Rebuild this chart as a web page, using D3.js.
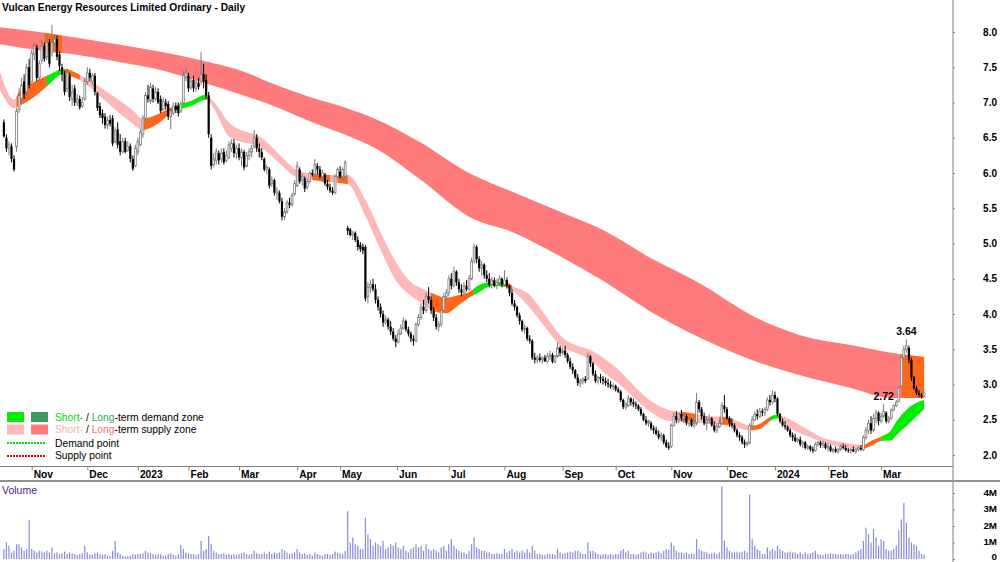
<!DOCTYPE html>
<html><head><meta charset="utf-8">
<script src="https://cdn.jsdelivr.net/npm/d3@7"></script>
<style>
html,body{margin:0;padding:0;background:#fff;}
svg{display:block;font-family:"Liberation Sans",Arial,sans-serif;}
</style></head><body>
<svg id="chart" width="1000" height="562"></svg>
<script>
// ---- Daily candles per month: [open, high, low, close, volume (millions)] ----
const oct22 = [[6.72,6.76,6.50,6.52,0.6],[6.50,6.55,6.30,6.35,1.0],[6.35,6.45,6.25,6.40,0.8],[6.38,6.42,6.15,6.20,0.4],[6.20,6.25,6.02,6.05,0.5],[6.37,6.92,6.30,6.88,0.9],[6.90,7.20,6.85,7.10,0.9],[7.05,7.35,7.00,7.25,0.7],[7.30,7.40,7.05,7.12,0.5],[7.15,7.55,7.10,7.50,0.6],[7.50,7.62,7.20,7.25,2.35]];
const nov22 = [[7.30,7.75,7.28,7.70,0.6],[7.68,7.85,7.60,7.80,0.5],[7.78,7.82,7.30,7.35,0.4],[7.35,7.60,7.30,7.55,0.5],[7.60,7.90,7.55,7.80,0.45],[7.80,7.85,7.58,7.62,0.4],[7.65,7.96,7.60,7.85,0.5],[7.85,7.90,7.50,7.55,0.4],[7.70,8.10,7.65,7.85,0.7],[7.85,7.95,7.80,7.90,0.35],[7.90,7.95,7.60,7.65,0.4],[7.68,7.72,7.45,7.52,0.3],[7.50,7.55,7.30,7.40,0.35],[7.40,7.45,7.10,7.15,0.45],[7.20,7.48,7.15,7.42,0.3],[7.38,7.42,7.02,7.08,0.4],[7.05,7.25,6.95,7.15,0.35],[7.20,7.25,6.95,7.00,0.3],[7.00,7.12,6.95,7.05,0.25],[7.05,7.10,6.90,6.93,0.3],[6.95,7.08,6.92,7.00,0.35],[7.05,7.35,7.02,7.30,0.8]];
const dec22 = [[7.30,7.50,7.25,7.42,0.4],[7.42,7.48,7.30,7.35,0.3],[7.30,7.42,7.25,7.38,0.25],[7.38,7.42,7.10,7.15,0.35],[7.13,7.15,6.88,6.92,0.4],[6.95,7.00,6.78,6.82,0.3],[6.85,6.90,6.70,6.78,0.25],[6.80,6.85,6.63,6.68,0.3],[6.68,6.80,6.62,6.75,0.2],[6.75,6.82,6.66,6.70,0.2],[6.78,6.82,6.38,6.42,0.5],[6.45,6.65,6.42,6.60,1.1],[6.62,6.72,6.35,6.40,0.4],[6.45,6.55,6.25,6.30,0.3],[6.30,6.50,6.28,6.45,0.2],[6.45,6.50,6.28,6.30,0.15],[6.32,6.45,6.30,6.38,0.15],[6.38,6.42,6.15,6.20,0.2],[6.20,6.25,6.03,6.06,0.3],[6.10,6.40,6.08,6.35,0.25]];
const jan23 = [[6.30,6.50,6.25,6.45,0.3],[6.40,6.62,6.38,6.58,0.3],[6.55,6.82,6.50,6.78,0.35],[6.78,7.15,6.75,7.10,0.5],[7.10,7.25,7.00,7.05,0.4],[7.02,7.28,6.98,7.22,0.35],[7.20,7.25,7.00,7.05,0.3],[7.05,7.22,7.02,7.15,0.25],[7.15,7.20,6.98,7.00,0.3],[7.05,7.10,6.85,6.88,0.3],[6.90,7.08,6.88,7.02,0.2],[7.00,7.05,6.90,6.95,0.2],[6.98,7.02,6.75,6.80,0.3],[6.80,6.92,6.62,6.88,0.35],[6.85,7.00,6.82,6.95,0.25],[6.95,7.00,6.85,6.90,0.2],[6.95,7.00,6.80,6.85,0.3],[6.88,7.02,6.85,6.98,0.85],[7.00,7.45,6.98,7.38,0.6],[7.35,7.50,7.30,7.42,0.4]];
const feb23 = [[7.38,7.42,7.15,7.20,0.35],[7.22,7.35,7.18,7.30,0.3],[7.32,7.38,7.15,7.20,0.3],[7.20,7.32,7.15,7.28,0.25],[7.28,7.35,7.18,7.22,0.3],[7.30,7.72,7.25,7.40,1.1],[7.40,7.55,7.20,7.30,0.5],[7.32,7.40,7.05,7.10,0.6],[7.10,7.15,6.50,6.55,1.4],[6.50,6.55,6.05,6.10,0.9],[6.12,6.28,6.08,6.20,0.5],[6.18,6.35,6.12,6.30,0.4],[6.28,6.32,6.12,6.18,0.3],[6.20,6.35,6.15,6.28,0.3],[6.30,6.35,6.12,6.15,0.35],[6.18,6.32,6.15,6.25,0.25],[6.22,6.45,6.20,6.40,0.3],[6.35,6.48,6.30,6.42,0.25],[6.42,6.48,6.22,6.28,0.3],[6.28,6.40,6.20,6.35,0.25]];
const mar23 = [[6.35,6.42,6.18,6.22,0.3],[6.22,6.35,6.10,6.30,0.35],[6.30,6.33,6.04,6.08,0.4],[6.10,6.30,6.08,6.25,0.3],[6.25,6.35,6.18,6.30,0.25],[6.30,6.40,6.22,6.35,0.3],[6.38,6.61,6.35,6.50,0.5],[6.50,6.55,6.30,6.35,0.35],[6.35,6.42,6.22,6.30,0.3],[6.30,6.35,6.18,6.22,0.3],[6.20,6.22,6.02,6.05,0.4],[6.05,6.12,5.98,6.08,0.3],[6.05,6.08,5.78,5.82,0.45],[5.85,5.95,5.80,5.90,0.3],[5.90,5.92,5.68,5.72,0.4],[5.72,5.80,5.62,5.75,0.35],[5.72,5.75,5.57,5.60,0.4],[5.60,5.65,5.33,5.38,0.6],[5.38,5.50,5.33,5.45,0.5],[5.45,5.62,5.42,5.58,0.4],[5.58,5.65,5.50,5.55,0.3],[5.55,5.72,5.52,5.68,0.35],[5.70,5.90,5.68,5.85,0.4]];
const apr23 = [[5.82,6.16,5.80,6.10,0.6],[6.05,6.08,5.85,5.88,0.4],[5.90,6.00,5.82,5.95,0.3],[5.92,5.95,5.73,5.78,0.35],[5.80,5.92,5.76,5.88,0.25],[5.88,6.02,5.85,6.00,0.3],[6.00,6.05,5.95,5.98,0.2],[5.98,6.20,5.94,6.12,0.4],[6.10,6.14,5.98,6.05,0.3],[6.05,6.10,5.92,5.95,0.25],[5.95,6.05,5.88,6.00,0.2],[5.98,6.00,5.82,5.85,0.3],[5.85,5.90,5.76,5.80,0.3],[5.80,5.85,5.72,5.75,0.25],[5.75,5.80,5.69,5.72,0.3],[5.72,5.98,5.70,5.95,0.45],[5.95,6.08,5.92,6.05,0.4]];
const may23 = [[6.02,6.10,5.92,5.95,0.35],[5.95,6.08,5.90,6.05,0.3],[5.95,6.18,5.92,6.15,0.5],[5.22,5.25,5.12,5.18,2.9],[5.20,5.22,5.10,5.12,1.0],[5.12,5.18,5.05,5.15,1.3],[5.15,5.17,5.02,5.05,0.9],[5.05,5.10,4.90,4.95,0.8],[4.98,5.02,4.88,4.92,0.6],[4.95,5.00,4.85,4.90,0.6],[4.95,4.98,4.18,4.22,2.5],[4.25,4.45,4.15,4.38,1.5],[4.38,4.48,4.30,4.42,1.2],[4.42,4.50,4.32,4.35,0.8],[4.35,4.42,4.15,4.20,1.0],[4.20,4.25,4.05,4.10,0.9],[4.10,4.15,3.95,4.00,0.8],[4.00,4.05,3.82,3.88,1.1],[3.88,3.98,3.85,3.92,0.6],[3.92,3.95,3.78,3.82,0.7],[3.82,3.90,3.70,3.75,0.9],[3.75,3.80,3.62,3.65,0.8],[3.65,3.70,3.53,3.60,1.0]];
const jun23 = [[3.60,3.78,3.58,3.72,0.7],[3.72,3.85,3.70,3.80,0.6],[3.80,3.95,3.78,3.90,0.8],[3.90,3.92,3.75,3.78,0.5],[3.78,3.82,3.68,3.72,0.4],[3.72,3.75,3.60,3.65,0.6],[3.65,3.70,3.55,3.62,0.7],[3.62,3.88,3.60,3.85,0.9],[3.85,4.00,3.82,3.95,0.7],[3.95,4.15,3.92,4.10,0.8],[4.10,4.20,4.00,4.05,0.5],[4.05,4.30,4.02,4.25,0.9],[4.25,4.38,4.15,4.20,0.6],[4.20,4.25,4.00,4.05,0.5],[4.05,4.10,3.90,3.95,0.6],[3.95,4.00,3.78,3.82,0.5],[3.82,3.90,3.75,3.85,0.4],[3.85,4.10,3.82,4.05,0.7],[4.05,4.30,4.02,4.25,0.8],[4.25,4.35,4.20,4.30,0.5],[4.30,4.55,4.25,4.50,0.9]];
const jul23 = [[4.50,4.58,4.35,4.40,1.2],[4.40,4.67,4.38,4.60,0.8],[4.60,4.62,4.40,4.45,0.6],[4.45,4.50,4.30,4.35,0.5],[4.35,4.42,4.25,4.30,0.4],[4.30,4.45,4.28,4.40,0.4],[4.40,4.48,4.32,4.35,0.3],[4.35,4.55,4.33,4.50,0.5],[4.50,4.80,4.48,4.75,0.9],[4.75,5.00,4.72,4.95,1.3],[4.95,4.98,4.72,4.78,0.7],[4.78,4.82,4.60,4.65,0.6],[4.65,4.75,4.55,4.70,0.5],[4.70,4.72,4.50,4.55,0.5],[4.55,4.62,4.45,4.50,0.4],[4.50,4.58,4.38,4.42,0.4],[4.42,4.52,4.36,4.48,0.3],[4.48,4.52,4.38,4.40,0.3],[4.40,4.50,4.35,4.45,0.35],[4.45,4.55,4.40,4.50,0.3],[4.50,4.52,4.38,4.42,0.3]];
const aug23 = [[4.42,4.62,4.40,4.48,0.6],[4.48,4.52,4.36,4.40,0.4],[4.40,4.42,4.25,4.30,0.5],[4.30,4.35,4.12,4.15,0.6],[4.15,4.20,4.05,4.10,0.4],[4.10,4.12,3.95,3.98,0.5],[3.98,4.02,3.85,3.90,0.4],[3.90,3.92,3.75,3.78,0.5],[3.78,3.85,3.72,3.80,0.4],[3.80,3.82,3.62,3.65,0.6],[3.65,3.70,3.58,3.62,0.4],[3.62,3.64,3.35,3.38,0.8],[3.38,3.45,3.30,3.35,0.5],[3.35,3.42,3.30,3.38,0.3],[3.38,3.44,3.32,3.35,0.3],[3.35,3.40,3.30,3.38,0.25],[3.38,3.42,3.32,3.33,0.25],[3.33,3.45,3.30,3.40,0.3],[3.40,3.48,3.35,3.42,0.3],[3.42,3.45,3.30,3.32,0.3],[3.32,3.42,3.30,3.40,0.25],[3.40,3.60,3.38,3.52,0.6],[3.52,3.55,3.40,3.45,0.4]];
const sep23 = [[3.45,3.52,3.42,3.48,0.3],[3.48,3.55,3.38,3.42,0.35],[3.42,3.45,3.30,3.33,0.4],[3.33,3.38,3.22,3.25,0.45],[3.25,3.30,3.15,3.20,0.4],[3.20,3.22,3.08,3.10,0.5],[3.10,3.15,2.98,3.02,0.5],[3.02,3.08,2.96,3.05,0.4],[3.05,3.10,3.00,3.08,0.3],[3.08,3.12,3.02,3.05,0.3],[3.08,3.45,3.06,3.40,1.0],[3.40,3.42,3.25,3.30,0.5],[3.30,3.32,3.12,3.15,0.5],[3.15,3.20,3.02,3.05,0.4],[3.05,3.12,3.00,3.10,0.3],[3.10,3.15,3.02,3.08,0.25],[3.08,3.12,3.00,3.05,0.3],[3.05,3.10,2.98,3.02,0.3],[3.02,3.08,2.95,3.00,0.25],[3.00,3.05,2.94,2.97,0.3],[2.97,3.02,2.92,2.98,0.25]];
const oct23 = [[2.98,3.00,2.90,2.93,0.3],[2.93,2.96,2.88,2.90,0.3],[2.90,2.92,2.75,2.78,0.5],[2.78,2.80,2.65,2.68,0.6],[2.68,2.75,2.64,2.72,0.4],[2.70,2.85,2.68,2.80,0.5],[2.80,2.82,2.70,2.75,0.3],[2.75,2.80,2.68,2.72,0.3],[2.72,2.76,2.65,2.70,0.25],[2.70,2.72,2.62,2.65,0.3],[2.65,2.68,2.55,2.58,0.4],[2.58,2.60,2.48,2.50,0.45],[2.50,2.55,2.42,2.45,0.4],[2.45,2.50,2.40,2.48,0.3],[2.45,2.48,2.35,2.38,0.4],[2.38,2.42,2.30,2.35,0.35],[2.35,2.40,2.28,2.30,0.4],[2.30,2.35,2.22,2.25,0.45],[2.25,2.32,2.20,2.28,0.35],[2.28,2.30,2.15,2.18,0.5],[2.18,2.22,2.10,2.12,0.6],[2.12,2.18,2.07,2.10,0.55]];
const nov23 = [[2.12,2.45,2.10,2.42,1.0],[2.42,2.60,2.40,2.55,0.8],[2.55,2.62,2.45,2.50,0.5],[2.50,2.60,2.45,2.58,0.4],[2.58,2.64,2.48,2.52,0.4],[2.52,2.60,2.45,2.55,0.35],[2.55,2.58,2.42,2.45,0.4],[2.45,2.55,2.40,2.50,0.3],[2.50,2.52,2.40,2.42,0.35],[2.42,2.50,2.38,2.45,0.3],[2.45,2.88,2.42,2.75,1.2],[2.75,2.78,2.60,2.65,0.6],[2.65,2.68,2.50,2.55,0.5],[2.55,2.60,2.42,2.45,0.45],[2.45,2.55,2.35,2.50,0.4],[2.50,2.58,2.45,2.52,0.3],[2.52,2.54,2.40,2.42,0.35],[2.42,2.48,2.32,2.35,0.4],[2.35,2.45,2.31,2.40,0.3],[2.40,2.50,2.38,2.45,0.4],[2.45,2.75,2.42,2.70,4.4],[2.70,2.85,2.60,2.65,1.1]];
const dec23 = [[2.65,2.68,2.50,2.52,0.7],[2.52,2.55,2.40,2.45,0.5],[2.45,2.52,2.38,2.42,0.4],[2.42,2.45,2.32,2.35,0.4],[2.35,2.38,2.25,2.28,0.45],[2.28,2.32,2.20,2.25,0.4],[2.25,2.28,2.15,2.18,0.45],[2.18,2.22,2.10,2.15,0.5],[2.15,2.20,2.12,2.17,0.4],[2.17,2.45,2.15,2.42,3.9],[2.42,2.55,2.40,2.50,1.2],[2.50,2.62,2.48,2.58,0.8],[2.58,2.65,2.50,2.55,0.6],[2.55,2.67,2.52,2.62,0.5],[2.62,2.66,2.55,2.60,0.3],[2.60,2.68,2.55,2.65,0.3],[2.65,2.82,2.62,2.78,0.7],[2.78,2.85,2.70,2.75,0.5],[2.75,2.92,2.72,2.85,0.6]];
const jan24 = [[2.85,2.90,2.75,2.80,0.5],[2.80,2.82,2.55,2.58,0.8],[2.58,2.60,2.45,2.48,0.6],[2.48,2.52,2.40,2.42,0.5],[2.42,2.48,2.36,2.40,0.4],[2.40,2.42,2.33,2.35,0.4],[2.35,2.38,2.25,2.28,0.45],[2.28,2.32,2.20,2.25,0.4],[2.25,2.30,2.18,2.20,0.4],[2.20,2.25,2.17,2.22,0.3],[2.22,2.26,2.12,2.15,0.4],[2.15,2.20,2.10,2.18,0.3],[2.18,2.20,2.08,2.10,0.4],[2.10,2.15,2.07,2.12,0.3],[2.12,2.14,2.05,2.08,0.35],[2.08,2.12,2.03,2.06,0.4],[2.06,2.18,2.05,2.15,0.5],[2.15,2.20,2.12,2.18,0.3],[2.18,2.20,2.10,2.14,0.25],[2.14,2.20,2.10,2.16,0.25],[2.16,2.18,2.08,2.10,0.3]];
const feb24 = [[2.10,2.17,2.05,2.12,0.3],[2.12,2.15,2.04,2.06,0.35],[2.06,2.10,2.02,2.08,0.3],[2.08,2.12,2.03,2.05,0.3],[2.05,2.10,2.02,2.08,0.25],[2.08,2.15,2.06,2.12,0.3],[2.12,2.16,2.08,2.10,0.25],[2.10,2.14,2.05,2.07,0.3],[2.07,2.10,2.03,2.06,0.3],[2.06,2.10,2.02,2.08,0.25],[2.08,2.12,2.04,2.05,0.3],[2.05,2.10,2.02,2.08,0.4],[2.08,2.12,2.05,2.10,0.5],[2.10,2.14,2.06,2.08,0.6],[2.08,2.28,2.06,2.25,1.1],[2.25,2.40,2.22,2.35,1.9],[2.35,2.50,2.30,2.45,1.5],[2.45,2.55,2.30,2.35,1.0],[2.35,2.58,2.32,2.52,1.8],[2.52,2.64,2.45,2.60,1.3],[2.60,2.62,2.42,2.48,0.8]];
const mar24 = [[2.48,2.60,2.45,2.55,1.2],[2.55,2.72,2.52,2.62,1.1],[2.60,2.62,2.45,2.48,0.6],[2.48,2.55,2.45,2.52,0.5],[2.52,2.66,2.50,2.64,0.5],[2.64,2.72,2.62,2.70,0.6],[2.70,2.78,2.68,2.75,0.8],[2.76,2.98,2.75,2.95,1.75],[2.98,3.40,2.96,3.38,2.4],[3.38,3.55,3.35,3.50,3.4],[3.50,3.64,3.45,3.55,2.2],[3.52,3.55,3.30,3.35,1.3],[3.35,3.38,3.05,3.10,1.0],[3.10,3.12,2.92,2.95,0.9],[2.95,2.98,2.85,2.88,0.8],[2.88,2.92,2.82,2.85,0.5],[2.85,2.88,2.80,2.83,0.3],[2.83,2.90,2.82,2.88,0.25]];

// ---- Zones: [day index, upper edge, lower edge] ----
const longBand = [[-2,8.07,7.83],[14,8.00,7.74],[30,7.91,7.67],[46,7.82,7.57],[62,7.72,7.46],[78,7.60,7.29],[93,7.46,7.12],[109,7.23,6.92],[120,7.09,6.75],[133,6.95,6.57],[148,6.75,6.33],[165,6.43,5.90],[184,6.00,5.38],[202,5.72,5.15],[220,5.45,4.82],[237,5.19,4.47],[256,4.79,4.03],[275,4.44,3.67],[298,3.94,3.32],[315,3.70,3.13],[335,3.56,2.95],[351,3.45,2.81],[364,3.39,2.81]];
const shortBand = [[-2,7.49,7.21],[4,7.04,6.92],[6,7.15,6.95],[12,7.29,7.08],[17,7.38,7.23],[20,7.43,7.33],[23,7.48,7.40],[26,7.46,7.38],[30,7.39,7.32],[38,7.22,7.09],[46,7.02,6.84],[51,6.89,6.70],[55,6.77,6.61],[60,6.82,6.68],[67,6.94,6.87],[74,7.02,6.95],[80,7.11,7.04],[83,7.01,6.92],[89,6.72,6.52],[103,6.47,6.33],[109,6.26,6.14],[116,6.04,5.94],[122,5.99,5.90],[129,5.97,5.87],[136,5.97,5.84],[143,5.62,5.39],[149,5.16,4.91],[155,4.74,4.48],[161,4.45,4.26],[165,4.37,4.16],[169,4.30,4.06],[175,4.23,4.01],[180,4.27,4.13],[184,4.31,4.23],[188,4.41,4.31],[193,4.45,4.40],[199,4.44,4.38],[202,4.38,4.31],[207,4.30,4.13],[215,3.94,3.77],[220,3.70,3.55],[226,3.56,3.45],[232,3.49,3.35],[237,3.38,3.18],[244,3.18,2.99],[249,2.99,2.82],[257,2.74,2.58],[263,2.64,2.48],[271,2.60,2.47],[279,2.55,2.44],[285,2.54,2.43],[291,2.47,2.38],[295,2.41,2.35],[299,2.44,2.37],[303,2.54,2.48],[306,2.57,2.52],[311,2.50,2.38],[317,2.38,2.28],[324,2.24,2.18],[332,2.18,2.11],[340,2.14,2.09],[343,2.20,2.13],[347,2.26,2.20],[351,2.35,2.21],[353,2.47,2.28],[357,2.64,2.41],[361,2.74,2.55],[364,2.78,2.65]];
const shortOrange = [[5,17],[24,30],[55,68],[122,129],[132,136],[169,186],[198,201],[268,274],[283,288],[295,303],[340,347]];
const shortGreen = [[17,24],[68,80],[186,198],[303,307],[347,365]];
const longOrange = [[16,23],[355,365]];

// ---- Axis labels ----
const monthLabels = ["Nov","Dec","2023","Feb","Mar","Apr","May","Jun","Jul","Aug","Sep","Oct","Nov","Dec","2024","Feb","Mar"];
const monthStarts = [11,33,53,73,93,116,133,155.5,176,198,221,242,264,286,305,326,347];
const priceTicks = [2.0,2.5,3.0,3.5,4.0,4.5,5.0,5.5,6.0,6.5,7.0,7.5,8.0];
const volTicks = [0,1e6,2e6,3e6,4e6];
const volTickLabels = ["0","1M","2M","3M","4M"];
const peaks = [{i:357, v:3.64}, {i:348, v:2.72}];

const C_LONG = "#FF7A7A", C_SHORT = "#FFB8B8", C_ORANGE = "#FF661A", C_GREEN = "#00EE00", C_GREEN2 = "#3A9E62";

const rows = [oct22,nov22,dec22,jan23,feb23,mar23,apr23,may23,jun23,jul23,aug23,sep23,oct23,nov23,dec23,jan24,feb24,mar24].flat();
const candles = rows.map((d,i)=>({i, o:d[0], h:d[1], l:d[2], c:d[3], v:d[4]*1e6}));

const svg = d3.select("#chart");
const x = d3.scaleLinear().domain([0,364]).range([3.9, 3.9+364*2.528]);
const y = d3.scaleLinear().domain([2,8]).range([455,32]);
const yv = d3.scaleLinear().domain([0,4e6]).range([559,493]);

const defs = svg.append("defs");
defs.append("clipPath").attr("id","plot").append("rect").attr("x",0).attr("y",0).attr("width",953).attr("height",466);

const plot = svg.append("g").attr("clip-path","url(#plot)");

const area = d3.area().x(d=>x(d[0])).y0(d=>y(d[2])).y1(d=>y(d[1])).curve(d3.curveMonotoneX);

let clipId = 0;
function overlay(g, samples, ranges, color){
  ranges.forEach(r=>{
    const id = "seg"+(clipId++);
    defs.append("clipPath").attr("id",id).append("rect")
      .attr("x", x(r[0])).attr("y",0).attr("width", x(r[1])-x(r[0])).attr("height",466);
    g.append("path").attr("d", area(samples)).attr("fill", color).attr("clip-path","url(#"+id+")");
  });
}

const bands = plot.append("g");
bands.append("path").attr("d", area(longBand)).attr("fill", C_LONG);
overlay(bands, longBand, longOrange, C_ORANGE);
bands.append("path").attr("d", area(shortBand)).attr("fill", C_SHORT);
overlay(bands, shortBand, shortOrange, C_ORANGE);
overlay(bands, shortBand, shortGreen, C_GREEN);

// candles
const cg = plot.append("g");
cg.selectAll("line.wick").data(candles).join("line")
  .attr("x1", d=>x(d.i)).attr("x2", d=>x(d.i))
  .attr("y1", d=>y(d.h)).attr("y2", d=>y(d.l))
  .attr("stroke", d=>d.c>=d.o ? "#7a7a7a" : "#000").attr("stroke-width",1);
cg.selectAll("rect.body").data(candles).join("rect")
  .attr("x", d=> d.c>=d.o ? x(d.i)-0.9 : x(d.i)-1.1)
  .attr("width", d=> d.c>=d.o ? 1.8 : 2.2)
  .attr("y", d=>y(Math.max(d.o,d.c)))
  .attr("height", d=>Math.max(0.8, Math.abs(y(d.o)-y(d.c))))
  .attr("fill", d=>d.c>=d.o ? "#fff" : "#000")
  .attr("stroke", d=>d.c>=d.o ? "#7a7a7a" : "none")
  .attr("stroke-width", 0.8);

// peak labels
svg.selectAll("text.peak").data(peaks).join("text")
  .attr("x", d=>x(d.i)).attr("y", d=>y(d.v)-4)
  .attr("text-anchor","middle").attr("font-size","10.5px").attr("font-weight","bold").attr("fill","#000")
  .text(d=>d.v.toFixed(2));

// volume bars
svg.append("g").selectAll("rect").data(candles).join("rect")
  .attr("x", d=>x(d.i)-0.6).attr("width",1.2)
  .attr("y", d=>yv(d.v)).attr("height", d=>559-yv(d.v))
  .attr("fill","#8A8AD6");

// frame lines
svg.append("line").attr("x1",953).attr("x2",953).attr("y1",0).attr("y2",562).attr("stroke","#808080").attr("stroke-width",1);
svg.append("line").attr("x1",0).attr("x2",953).attr("y1",466.5).attr("y2",466.5).attr("stroke","#808080").attr("stroke-width",1);
svg.append("line").attr("x1",0).attr("x2",1000).attr("y1",481).attr("y2",481).attr("stroke","#909090").attr("stroke-width",2);

// price axis
const pa = svg.append("g").attr("transform","translate(953,0)")
  .call(d3.axisRight(y).tickValues(priceTicks).tickSize(2).tickFormat(d3.format(".1f")));
pa.select(".domain").remove();
pa.selectAll(".tick line").attr("stroke","#808080");
pa.selectAll(".tick text").attr("x",44).attr("text-anchor","end").attr("font-size","10px").attr("font-weight","bold").attr("fill","#000").attr("font-family","Liberation Sans, Arial, sans-serif");

// volume axis
const va = svg.append("g").attr("transform","translate(953,0)")
  .call(d3.axisRight(yv).tickValues(volTicks).tickSize(2).tickFormat((d,k)=>volTickLabels[k]));
va.select(".domain").remove();
va.selectAll(".tick line").attr("stroke","#808080");
va.selectAll(".tick text").attr("x",44).attr("dy","0.25em").attr("text-anchor","end").attr("font-size","9.8px").attr("font-weight","bold").attr("fill","#000").attr("font-family","Liberation Sans, Arial, sans-serif");
va.selectAll(".tick text").filter((d)=>d===0).attr("dy","0.1em");

// date axis
const xa = svg.append("g").attr("transform","translate(0,466.5)")
  .call(d3.axisBottom(x).tickValues(monthStarts).tickSize(4).tickFormat((d,k)=>monthLabels[k]));
xa.select(".domain").remove();
xa.selectAll(".tick line").attr("stroke","#808080");
xa.selectAll(".tick text").attr("x",1.5).attr("y",11.5).attr("dy",null).attr("text-anchor","start")
  .attr("font-size","10.2px").attr("font-weight","bold").attr("fill","#000").attr("font-family","Liberation Sans, Arial, sans-serif");

// title
svg.append("text").attr("x",2).attr("y",10.5).attr("font-size","10.2px").attr("font-weight","bold").attr("fill","#000")
  .text("Vulcan Energy Resources Limited Ordinary - Daily");
svg.append("text").attr("x",2).attr("y",494).attr("font-size","10.5px").attr("fill","#55198C")
  .text("Volume");

// legend
const lg = svg.append("g");
lg.append("rect").attr("x",7).attr("y",412).attr("width",17).attr("height",10).attr("fill",C_GREEN);
lg.append("rect").attr("x",31).attr("y",412).attr("width",17).attr("height",10).attr("fill",C_GREEN2);
lg.append("rect").attr("x",7).attr("y",424.5).attr("width",17).attr("height",10).attr("fill",C_SHORT);
lg.append("rect").attr("x",31).attr("y",424.5).attr("width",17).attr("height",10).attr("fill",C_LONG);
lg.append("line").attr("x1",7).attr("x2",45).attr("y1",443).attr("y2",443).attr("stroke","#00DD00").attr("stroke-width",2).attr("stroke-dasharray","2,1");
lg.append("line").attr("x1",7).attr("x2",45).attr("y1",456).attr("y2",456).attr("stroke","#EE0000").attr("stroke-width",2).attr("stroke-dasharray","2,1");
const legendRows = [
  {y:420.5, parts:[["Short-","#00DD00"],[" / ","#000"],["Long","#2EAA5E"],["-term demand zone","#000"]]},
  {y:433, parts:[["Short-","#FFB0B0"],[" / ","#000"],["Long","#FF6E6E"],["-term supply zone","#000"]]},
  {y:446.5, parts:[["Demand point","#000"]]},
  {y:459, parts:[["Supply point","#000"]]}
];
legendRows.forEach(r=>{
  const t = lg.append("text").attr("x",55).attr("y",r.y).attr("font-size","10.3px").attr("xml:space","preserve");
  r.parts.forEach(p=>t.append("tspan").attr("fill",p[1]).text(p[0]));
});
</script>
</body></html>
